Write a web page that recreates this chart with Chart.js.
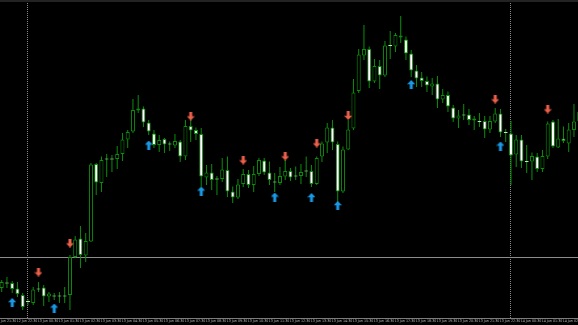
<!DOCTYPE html>
<html><head><meta charset="utf-8">
<script src="https://cdn.jsdelivr.net/npm/chart.js@4/dist/chart.umd.min.js"></script>
<style>
html,body{margin:0;padding:0;background:#000;overflow:hidden}
#wrap{position:relative;width:578px;height:325px;background:#000}
#topbar{position:absolute;left:0;top:0;width:578px;height:2px;background:#232323}
canvas{display:block}
</style></head><body>
<div id="wrap"><canvas id="c" width="578" height="325"></canvas><div id="topbar"></div></div>
<script>
// OHLC values (arbitrary price units)
const opens = [42,46.5,47,41.5,35,28,27,40.5,42.5,33.5, 33.5,33.5,33.5,35,73,91.5,74.5,88.5,166,147,
 170.5,170.5,171,176,190.5,198.5,219.5,221.5,207.5,196.5, 185,191,185.5,184.5,188.5,173.5,204,200,196,152.5,
 157.5,150.5,151,160,138.5,132.5,146,156,145,156, 169.5,157.5,147.5,147,153.5,159,153.5,154,158.5,159,
 146,173.5,187.5,202.5,186,138.5,180.5,201.5,239,274.5, 281,248.5,264,254.5,284,283.5,294.5,290.5,276.5,259.5,
 252.5,249,243.5,246.5,230.5,235,222.5,211.5,214.5,215.5, 209.5,208,209,200.5,208.5,216.5,197,196.5,175.5,190.5,
 168,168.5,173.5,161,173.5,208.5,182.5,191.5,186.5,200, 209];
const highs = [50,53,49,48,37,31,43,48,45,38, 37,38,43,75,94,104,97,167,167,173.5,
 176,175,184,197,200,231,235,223.5,210,200, 195,192,188.5,196,190,210,215,202.5,202,165,
 166,154,172,173.5,143.5,151,161,160,164,172, 172,168.5,157,163,170,162,163.5,166,173.5,165,
 173.5,188.5,207,210,188.5,183.5,210,251,281,305, 283.5,271,270,289,299,297,314,293.5,280,265,
 258,253.5,252,254,241,238.5,225,220,226,221, 214,217,214,214,222,221,201,209,195,195,
 185,177.5,177,180,208.5,210,211,203.5,207,226, 222];
const lows = [38,42,37,33,20,25,25,38,24,28, 30,27,27,20,72,62,68,88,135,138,
 153,158,161,169,182,197,217,203,195,182, 178,177,179,182,168,170,188,190,143,145,
 140,135,148,133,127,131,143,142,138,154, 155,145,138,145,150,149,150,146,153,143,
 145,168,177,180,128,137,180,200,237,270, 242,247,241,253,271,278,287,270,253,243,
 243,238,235,222,227,218,208,202,210,205, 200,203,192,197,207,193,188,145,163,162,
 157,150,158,158,171,182,182,187,178,193, 205];
const closes = [48,47.5,41,36,23,29,40.5,41.5,33.5,36.5, 34.5,34.5,34.5,73,90.5,75,89,165.5,147.5,170,
 171.5,171.5,176,190.5,198,220,221.5,207.5,198.5,185, 190,185.5,186.5,189,173.5,204,199.5,196,153.5,157.5,
 150,151.5,160.5,138.5,132.5,145.5,156,145,156,170, 157.5,150,148.5,154,159,152.5,154.5,158,159.5,146,
 172,186.5,202.5,187.5,138.5,180.5,200.5,237.5,275.5,281, 248.5,264,254.5,284.5,285,295,292.5,276.5,259.5,251.5,
 249,244.5,246.5,230.5,235,223.5,211.5,214.5,215.5,210, 211.5,209,200.5,209,216.5,197.5,198,174.5,190.5,168.5,
 169,174,161,174,206.5,183.5,191.5,189,200.5,208.5, 218];

// signal arrows: bar index and price level
const sellSignalBars   = [7, 13, 36, 46, 54, 60, 66, 94, 104];
const sellSignalPrices = [58, 87, 214, 170, 174, 187, 214.5, 231, 221];
const buySignalBars    = [2, 10, 28, 38, 52, 59, 64, 78, 95];
const buySignalPrices  = [27.5, 22, 185, 139, 133, 132.5, 124.5, 245.5, 184];

const levelPrice = 72.5;               // horizontal line
const separatorBars = [4.91, 96.91];   // day separators

const timeLabels = ["12 Jun 21:30","12 Jun 22:30","13 Jun 00:30","13 Jun 01:30","13 Jun 02:30","13 Jun 03:30",
 "13 Jun 04:30","13 Jun 05:30","13 Jun 06:30","13 Jun 07:30","13 Jun 08:30","13 Jun 09:30","13 Jun 10:30",
 "13 Jun 11:30","13 Jun 12:30","13 Jun 13:30","13 Jun 14:30","13 Jun 15:30","13 Jun 16:30","13 Jun 17:30",
 "13 Jun 18:30","13 Jun 19:30","13 Jun 20:30","13 Jun 21:30","13 Jun 22:30","14 Jun 00:30","14 Jun 01:30","14 Jun 02:30"];
const tickStart = -1.14, tickStep = 4;

const GREEN = '#0b8f0b';
const idx = opens.map((_, i) => i);
const isDash = i => Math.abs(closes[i] - opens[i]) <= 1;
const bodyFill = idx.map(i => isDash(i) ? '#b4eeb4' : (closes[i] > opens[i] ? '#000000' : '#ffffff'));
const bodyBorder = idx.map(i => isDash(i) ? '#b4eeb4' : GREEN);

function arrowCanvas(color, up) {
  const c = document.createElement('canvas'); c.width = 8; c.height = 9;
  const g = c.getContext('2d'); g.fillStyle = color;
  const pts = [[4,0],[8,4.2],[5.5,4.2],[5.5,9],[2.5,9],[2.5,4.2],[0,4.2]];
  g.beginPath();
  pts.forEach(([x, y], k) => { const yy = up ? y : 9 - y; if (k) g.lineTo(x, yy); else g.moveTo(x, yy); });
  g.closePath(); g.fill();
  return c;
}
const redArrow = arrowCanvas('#ec5f4a', false);
const blueArrow = arrowCanvas('#1a9ae6', true);

const datasets = [
  { type: 'scatter', label: 'sell', data: sellSignalBars.map((b, k) => ({x: b, y: sellSignalPrices[k]})),
    pointStyle: redArrow, pointRadius: 4, order: -2, clip: false },
  { type: 'scatter', label: 'buy', data: buySignalBars.map((b, k) => ({x: b, y: buySignalPrices[k]})),
    pointStyle: blueArrow, pointRadius: 4, order: -2, clip: false },
  { type: 'bar', label: 'body', data: idx.map(i => ({x: i, y: [opens[i], closes[i]]})),
    backgroundColor: bodyFill, borderColor: bodyBorder, borderWidth: 1, borderSkipped: false,
    grouped: false, barPercentage: 1, categoryPercentage: 1, barThickness: 4, maxBarThickness: 4,
    inflateAmount: 0, order: 0 },
  { type: 'bar', label: 'wick', data: idx.map(i => ({x: i, y: [lows[i], highs[i]]})),
    backgroundColor: GREEN, borderWidth: 0, grouped: false, barPercentage: 1, categoryPercentage: 1,
    barThickness: 1, maxBarThickness: 1, inflateAmount: 0, order: 1 },
  { type: 'line', label: 'level', data: [{x: -2, y: levelPrice}, {x: 112, y: levelPrice}],
    borderColor: '#8c8c8c', borderWidth: 1, pointRadius: 0, order: 3 }
];
separatorBars.forEach(b => datasets.push({ type: 'line', label: 'sep', data: [{x: b, y: 12}, {x: b, y: 328}],
  borderColor: '#8a8a8a', borderWidth: 1, borderDash: [1, 1], pointRadius: 0, order: 4 }));

new Chart(document.getElementById('c'), {
  type: 'bar',
  data: { datasets },
  options: {
    responsive: false, animation: false, devicePixelRatio: 1,
    layout: { autoPadding: false, padding: { top: 2, left: 0, right: 0, bottom: 0 } },
    plugins: { legend: { display: false }, tooltip: { enabled: false } },
    events: [],
    scales: {
      x: {
        type: 'linear', min: -0.324, max: 109.77, offset: false,
        grid: { display: true, color: 'rgba(0,0,0,0)', drawTicks: false },
        border: { display: true, color: '#7c7c7c', width: 1 },
        afterBuildTicks: s => { s.ticks = timeLabels.map((_, k) => ({ value: tickStart + tickStep * k })); },
        afterFit: s => { s.height = 7; s.paddingLeft = 0; s.paddingRight = 0; },
        ticks: { autoSkip: false, maxRotation: 0, minRotation: 0, align: 'start', padding: 1, color: '#bdbdbd',
          font: { family: "'Liberation Sans Narrow', 'DejaVu Sans Condensed', sans-serif", size: 3.6 },
          callback: (v, k) => timeLabels[k] }
      },
      y: { type: 'linear', display: false, min: 12, max: 328 }
    }
  }
});
</script>
</body></html>
